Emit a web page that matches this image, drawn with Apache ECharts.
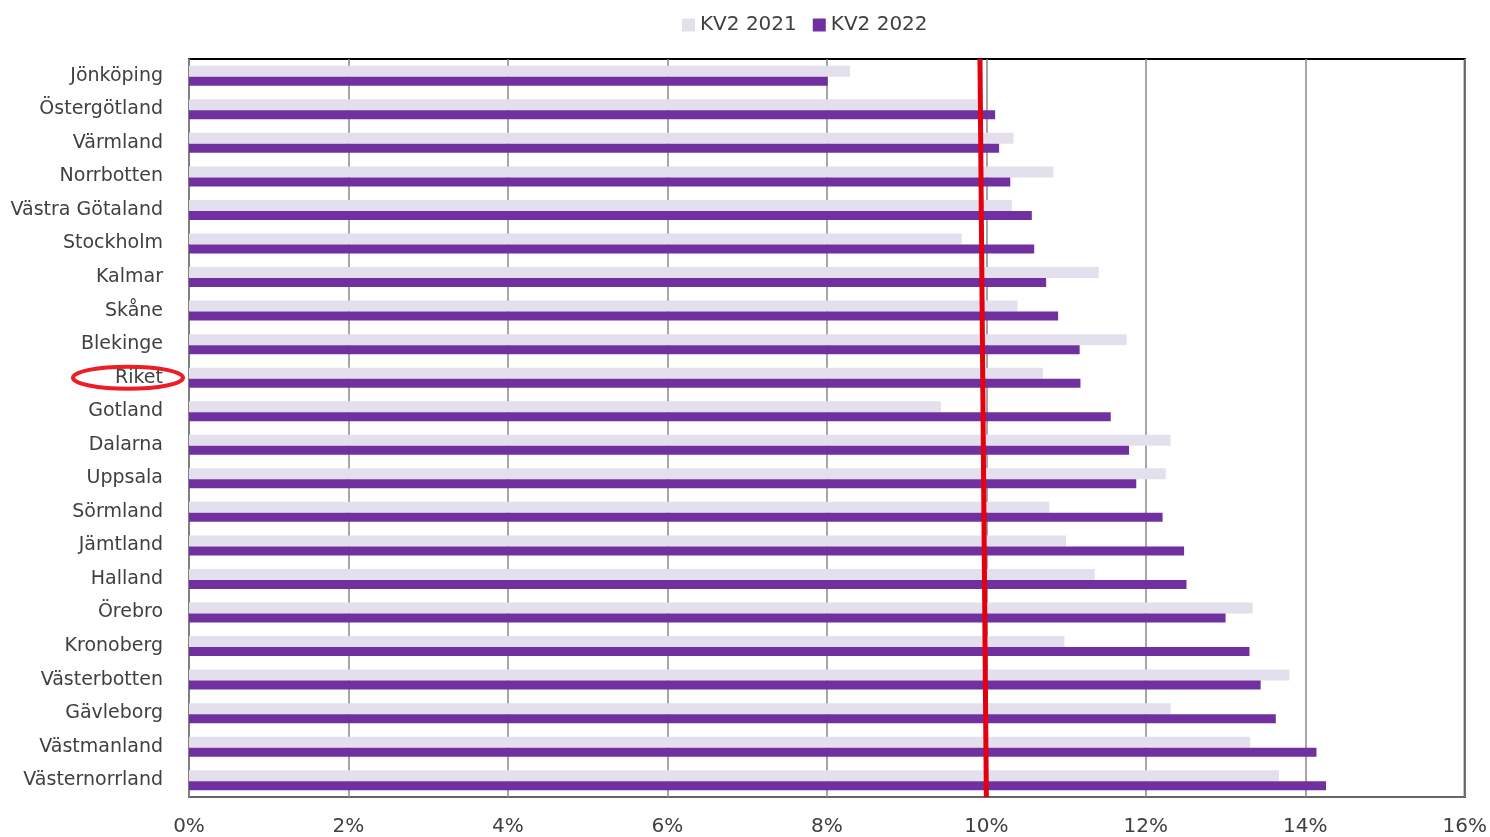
<!DOCTYPE html>
<html>
<head>
<meta charset="utf-8">
<script src="https://cdn.jsdelivr.net/npm/echarts@6/dist/echarts.min.js"></script>
<style>
  html, body { margin: 0; padding: 0; background: #fff; }
  #main { width: 1490px; height: 837px; }
</style>
</head>
<body>
<div id="main"></div>
<script>
// län, uppifrån och ned
var regions = ['Jönköping', 'Östergötland', 'Värmland', 'Norrbotten', 'Västra Götaland',
    'Stockholm', 'Kalmar', 'Skåne', 'Blekinge', 'Riket', 'Gotland', 'Dalarna', 'Uppsala',
    'Sörmland', 'Jämtland', 'Halland', 'Örebro', 'Kronoberg', 'Västerbotten', 'Gävleborg',
    'Västmanland', 'Västernorrland'];
var kv2021 = [8.29, 9.89, 10.34, 10.84, 10.32, 9.69, 11.41, 10.39, 11.76, 10.71, 9.43,
    12.31, 12.25, 10.79, 11.0, 11.36, 13.34, 10.98, 13.80, 12.31, 13.31, 13.67];
var kv2022 = [8.01, 10.11, 10.16, 10.30, 10.57, 10.60, 10.75, 10.90, 11.17, 11.18, 11.56,
    11.79, 11.88, 12.21, 12.48, 12.51, 13.00, 13.30, 13.44, 13.63, 14.14, 14.26];
var seriesNames = ['KV2 2021', 'KV2 2022'];
// handritad röd linje (x-värde överst, nederst)
var redLine = [[9.92, 1], [10.0, 0]];

var dom = document.getElementById('main');
var myChart = echarts.init(dom);
var font = 'DejaVu Sans';

var option = {
    animation: false,
    legend: {
        top: 10,
        left: 677,
        itemWidth: 13,
        itemHeight: 13,
        itemGap: 16,
        icon: 'rect',
        textStyle: { fontFamily: font, fontSize: 20, color: '#404040' },
        data: seriesNames
    },
    grid: {
        left: 189,
        right: 25,
        top: 59,
        bottom: 39,
        show: true,
        borderColor: '#000',
        borderWidth: 2
    },
    xAxis: {
        type: 'value',
        min: 0,
        max: 16,
        interval: 2,
        axisLine: { show: true, lineStyle: { color: '#888', width: 1.5 } },
        axisTick: { show: false },
        splitLine: { show: true, lineStyle: { color: '#888', width: 1.5 } },
        axisLabel: {
            formatter: '{value}%',
            fontFamily: font,
            fontSize: 20,
            color: '#404040',
            margin: 20
        }
    },
    yAxis: [{
        type: 'category',
        inverse: true,
        data: regions,
        axisLine: { show: true, lineStyle: { color: '#888', width: 1.5 } },
        axisTick: { show: false },
        axisLabel: {
            fontFamily: font,
            fontSize: 19,
            color: '#404040',
            margin: 26,
            padding: [4, 0, 0, 0]
        }
    }, {
        type: 'value',
        min: 0,
        max: 1,
        show: false
    }],
    series: [{
        name: seriesNames[0],
        type: 'bar',
        data: kv2021,
        barWidth: 11,
        barGap: '0%',
        itemStyle: { color: '#e4dfec' }
    }, {
        name: seriesNames[1],
        type: 'bar',
        data: kv2022,
        barWidth: 9,
        barGap: '0%',
        itemStyle: { color: '#7030a0' }
    }, {
        type: 'line',
        yAxisIndex: 1,
        data: redLine,
        symbol: 'none',
        silent: true,
        lineStyle: { color: '#e3000f', width: 5 },
        z: 10
    }]
};

option && myChart.setOption(option);

// röd ring runt "Riket"
var cy = myChart.convertToPixel({ yAxisIndex: 0 }, 'Riket');
myChart.setOption({
    graphic: [{
        type: 'ellipse',
        shape: { cx: 128, cy: cy, rx: 55, ry: 11 },
        style: { fill: 'none', stroke: '#ee1c25', lineWidth: 4 },
        z: 100
    }]
});
</script>
</body>
</html>
